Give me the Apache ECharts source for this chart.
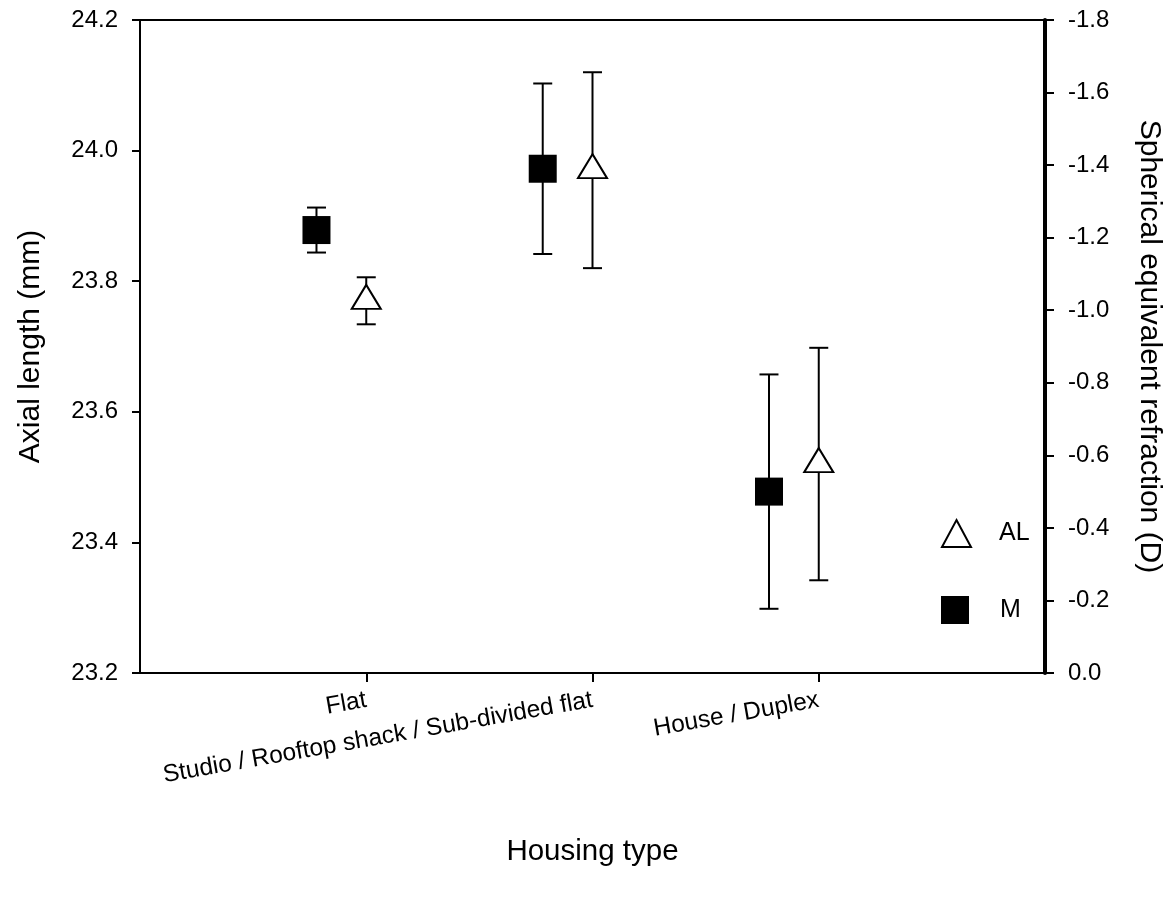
<!DOCTYPE html>
<html>
<head>
<meta charset="utf-8">
<title>Axial length and refraction by housing type</title>
<script src="https://cdn.jsdelivr.net/npm/echarts@6/dist/echarts.min.js"></script>
<style>
  html, body { margin: 0; padding: 0; background: #fff; }
  #chart { width: 1172px; height: 900px; }
</style>
</head>
<body>
<div id="chart"></div>
<script>
// Housing categories, placed at x = 1, 2, 3 on the value axis
const housingTypes = ['Flat', 'Studio / Rooftop shack / Sub-divided flat', 'House / Duplex'];

// Axial length (mm): mean and error half-width
const alMean = [23.770, 23.970, 23.520];
const alErr = [0.036, 0.150, 0.178];

// Spherical equivalent refraction (D): mean and error half-width
const mMean = [-1.221, -1.390, -0.500];
const mErr = [0.062, 0.235, 0.323];

// Horizontal shift of the M markers left of each category
const mShift = -0.22;

const FONT = '"Liberation Sans", Arial, sans-serif';

const alPoints = alMean.map((v, i) => [i + 1, v]);
const alBars = alMean.map((v, i) => [i + 1, v - alErr[i], v + alErr[i]]);
const mPoints = mMean.map((v, i) => [i + 1 + mShift, v]);
const mBars = mMean.map((v, i) => [i + 1 + mShift, v - mErr[i], v + mErr[i]]);

function renderErrorBar(params, api) {
  const x = api.value(0);
  const top = api.coord([x, api.value(2)]);
  const bot = api.coord([x, api.value(1)]);
  const half = 9.5;
  const style = { stroke: '#000', lineWidth: 2 };
  return {
    type: 'group',
    children: [
      { type: 'line', shape: { x1: top[0], y1: top[1], x2: bot[0], y2: bot[1] }, style },
      { type: 'line', shape: { x1: top[0] - half, y1: top[1], x2: top[0] + half, y2: top[1] }, style },
      { type: 'line', shape: { x1: bot[0] - half, y1: bot[1], x2: bot[0] + half, y2: bot[1] }, style }
    ]
  };
}

const chart = echarts.init(document.getElementById('chart'));
chart.setOption({
  animation: false,
  backgroundColor: '#fff',
  textStyle: { fontFamily: FONT, color: '#000' },
  grid: {
    left: 140, right: 126, top: 20, bottom: 227,
    show: true, borderColor: '#000', borderWidth: 2, backgroundColor: 'transparent'
  },
  legend: [
    {
      data: ['AL'], orient: 'vertical', left: 936, top: 514,
      itemWidth: 29, itemHeight: 27, selectedMode: false,
      textStyle: { fontFamily: FONT, fontSize: 25, color: '#000', padding: [8, 0, 0, 23] }
    },
    {
      data: ['M'], orient: 'vertical', left: 936, top: 591,
      itemWidth: 28, itemHeight: 28, selectedMode: false,
      textStyle: { fontFamily: FONT, fontSize: 25, color: '#000', padding: [0, 0, 0, 26] }
    }
  ],
  xAxis: {
    type: 'value', min: 0, max: 4, interval: 1,
    name: 'Housing type', nameLocation: 'middle', nameGap: 164,
    nameTextStyle: { fontFamily: FONT, fontSize: 29.5, color: '#000' },
    splitLine: { show: false },
    axisLine: { lineStyle: { color: '#000', width: 2 } },
    axisTick: { show: true, length: 9, customValues: [1, 2, 3], lineStyle: { color: '#000', width: 2 } },
    axisLabel: {
      customValues: [1, 2, 3],
      rotate: 10, margin: 27, fontFamily: FONT, fontSize: 24.5, color: '#000',
      formatter: (v) => housingTypes[Math.round(v) - 1] || ''
    }
  },
  yAxis: [
    {
      type: 'value', min: 23.2, max: 24.2, interval: 0.2, position: 'left',
      name: 'Axial length (mm)', nameLocation: 'middle', nameGap: 94,
      nameTextStyle: { fontFamily: FONT, fontSize: 30, color: '#000' },
      splitLine: { show: false },
      axisLine: { show: true, lineStyle: { color: '#000', width: 2 } },
      axisTick: { show: true, length: 8, lineStyle: { color: '#000', width: 2 } },
      axisLabel: { margin: 22, fontFamily: FONT, fontSize: 24, color: '#000', formatter: (v) => v.toFixed(1) }
    },
    {
      type: 'value', min: -1.8, max: 0, interval: 0.2, inverse: true, position: 'right',
      name: 'Spherical equivalent refraction (D)', nameLocation: 'middle', nameGap: 89, nameRotate: -90,
      nameTextStyle: { fontFamily: FONT, fontSize: 30, color: '#000' },
      splitLine: { show: false },
      axisLine: { show: true, lineStyle: { color: '#000', width: 4 } },
      axisTick: { show: true, length: 9, lineStyle: { color: '#000', width: 2 } },
      axisLabel: { margin: 23, fontFamily: FONT, fontSize: 24, color: '#000', formatter: (v) => (Math.abs(v) < 1e-9 ? 0 : v).toFixed(1) }
    }
  ],
  series: [
    {
      name: 'AL-err', type: 'custom', xAxisIndex: 0, yAxisIndex: 0, z: 2,
      renderItem: renderErrorBar, encode: { x: 0, y: [1, 2] }, data: alBars, silent: true
    },
    {
      name: 'M-err', type: 'custom', xAxisIndex: 0, yAxisIndex: 1, z: 2,
      renderItem: renderErrorBar, encode: { x: 0, y: [1, 2] }, data: mBars, silent: true
    },
    {
      name: 'AL', type: 'scatter', xAxisIndex: 0, yAxisIndex: 0, z: 5,
      symbol: 'triangle', symbolSize: [29, 24], symbolOffset: [0, -4],
      itemStyle: { color: '#fff', borderColor: '#000', borderWidth: 2, opacity: 1 },
      data: alPoints
    },
    {
      name: 'M', type: 'scatter', xAxisIndex: 0, yAxisIndex: 1, z: 5,
      symbol: 'rect', symbolSize: 28,
      itemStyle: { color: '#000', borderColor: '#000', borderWidth: 0, opacity: 1 },
      data: mPoints
    }
  ]
});
</script>
</body>
</html>
